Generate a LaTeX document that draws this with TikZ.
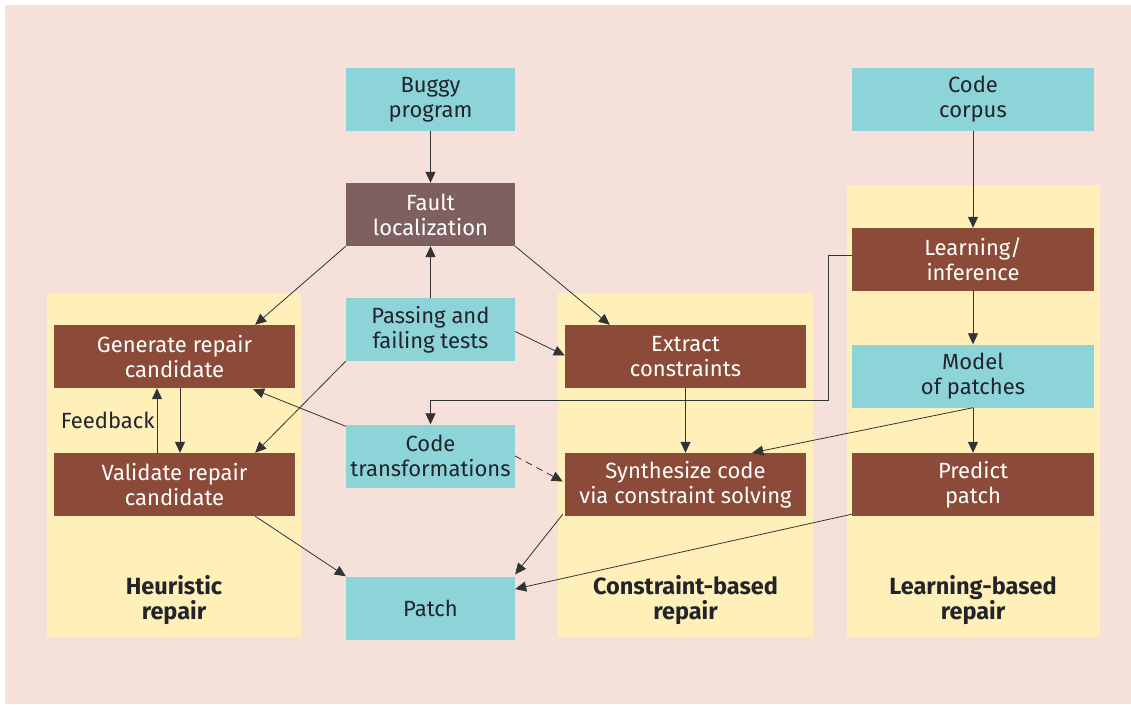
\documentclass[tikz,border=0pt]{standalone}
\usepackage{fontspec}
\setmainfont{Fira Sans}
\usetikzlibrary{calc,arrows.meta}
\definecolor{bgpink}{HTML}{F5E1D9}
\definecolor{panelyellow}{HTML}{FFF0BA}
\definecolor{datacyan}{HTML}{8DD4D8}
\definecolor{stepbrown}{HTML}{8C4B38}
\definecolor{faultmauve}{HTML}{7F6060}
\definecolor{inkdark}{HTML}{22232B}
\definecolor{wiregray}{HTML}{333333}
\tikzset{
  databox/.style={fill=datacyan, text=inkdark, minimum width=169pt, minimum height=63pt,
    align=center, inner sep=0pt, font=\fontsize{22}{25}\selectfont},
  stepbox/.style={fill=stepbrown, text=white, minimum width=241pt, minimum height=63pt,
    align=center, inner sep=0pt, font=\fontsize{22}{25}\selectfont},
  panel/.style={fill=panelyellow},
  paneltitle/.style={text=inkdark, align=center, font=\bfseries\fontsize{23.5}{25}\selectfont},
  wire/.style={draw=wiregray, line width=0.8pt, -{Triangle[length=11pt,width=10pt]}},
}
\begin{document}
\begin{tikzpicture}[x=1pt,y=-1pt]
  % page and background
  \fill[white] (0,0) rectangle (1131,704);
  \fill[bgpink] (5,5) rectangle (1131,704);
  \useasboundingbox (0,0) rectangle (1131,704);

  % approach panels
  \fill[panel] (47,293) rectangle (301,637);
  \fill[panel] (558,293) rectangle (813,637);
  \fill[panel] (847,185) rectangle (1100,637);

  % shared pipeline
  \node[databox] (buggy) at (430.5,99.5) {Buggy\\program};
  \node[databox, fill=faultmauve, text=white] (fault) at (430.5,214.5) {Fault\\localization};
  \node[databox] (tests) at (430.5,329.5) {Passing and\\failing tests};
  \node[databox] (ctrans) at (430.5,456) {Code\\transformations};
  \node[databox] (patch) at (430.5,608) {Patch};

  % heuristic repair
  \node[stepbox] (gen) at (174.5,356.5) {Generate repair\\candidate};
  \node[stepbox] (val) at (174.5,484.5) {Validate repair\\candidate};
  \node[paneltitle] (heur) at (174,600) {Heuristic\\repair};

  % constraint-based repair
  \node[stepbox] (extract) at (685.5,356.5) {Extract\\constraints};
  \node[stepbox] (synth) at (685.5,484.5) {Synthesize code\\via constraint solving};
  \node[paneltitle] (cons) at (685.5,600) {Constraint-based\\repair};

  % learning-based repair
  \node[databox, minimum width=242pt] (corpus) at (973,99.5) {Code\\corpus};
  \node[stepbox, minimum width=242pt] (learn) at (973,259.5) {Learning/\\inference};
  \node[databox, minimum width=242pt] (model) at (973,376) {Model\\of patches};
  \node[stepbox, minimum width=242pt] (predict) at (973,484.5) {Predict\\patch};
  \node[paneltitle] (lear) at (973,600) {Learning-based\\repair};

  % main flow
  \draw[wire] (buggy.south) -- (fault.north);
  \draw[wire] (tests.north) -- (fault.south);
  \draw[wire] (fault.south west) -- ($(gen.north east)+(-40,0)$);
  \draw[wire] (fault.south east) -- ($(extract.north west)+(45,0)$);
  \draw[wire] ($(tests.east)+(0,2)$) -- ($(extract.west)+(0,-1)$);
  \draw[wire] (tests.south west) -- ($(val.north east)+(-40,0)$);
  \draw[wire] ($(ctrans.north west)+(0,2)$) -- ($(gen.south east)+(-42,1)$);
  \draw[wire, dash pattern=on 7pt off 5pt] (ctrans.east) -- ($(synth.west)+(-2,-3)$);

  % heuristic loop
  \coordinate (fbtop) at ($(gen.south)+(-17.5,0)$);
  \coordinate (fbbot) at ($(val.north)+(-17.5,0)$);
  \draw[wire] ($(gen.south)+(5.5,0)$) -- ($(val.north)+(5.5,0)$);
  \draw[wire] (fbbot) -- node[left, text=inkdark, font=\fontsize{22}{25}\selectfont, inner sep=2pt] (fblabel) {Feedback} (fbtop);

  % constraint-based flow
  \draw[wire] (extract.south) -- (synth.north);

  % learning-based flow
  \draw[wire] (corpus.south) -- (learn.north);
  \draw[wire] (learn.south) -- (model.north);
  \draw[wire] (model.south) -- (predict.north);
  \coordinate (bendA) at (828,255);
  \coordinate (bendB) at (828,400);
  \draw[wire] ($(learn.west)+(0,-4.5)$) -- (bendA) -- (bendB) -| (ctrans.north);
  \draw[wire] (model.south) -- ($(synth.north east)+(-54,0)$);

  % towards the patch
  \draw[wire] ($(val.south east)+(-40,0)$) -- (patch.north west);
  \draw[wire] ($(synth.south west)+(-2,-2)$) -- ($(patch.north east)+(0,-2)$);
  \draw[wire] ($(predict.south west)+(0,-2)$) -- ($(patch.east)+(0,-19)$);
\end{tikzpicture}
\end{document}
